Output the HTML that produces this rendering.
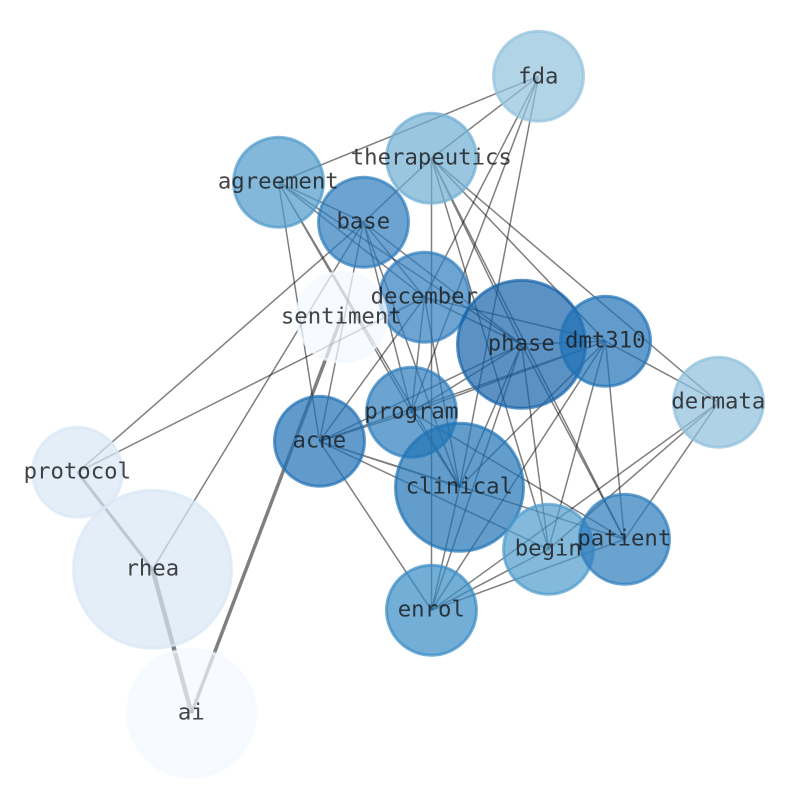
<!DOCTYPE html>
<html><head><meta charset="utf-8"><style>html,body{margin:0;padding:0;background:#fff}svg{display:block}text{font-family:"DejaVu Sans Mono","Liberation Mono",monospace;font-size:22.3px;text-anchor:middle;fill:#1a1a1a;fill-opacity:.82}</style></head><body>
<svg width="794" height="790" viewBox="0 0 794 790" xmlns="http://www.w3.org/2000/svg">
<rect width="794" height="790" fill="#fff"/>
<g transform="translate(.5,.3)">
<g stroke="#000" stroke-opacity=".5" stroke-width="1.5" fill="none">
<path d="M538 76L278 182M538 76L431 158M538 76L424 297M538 76L411 412M538 76L459 487"/>
<path d="M431 158L363 222M431 158L431 610M431 158L521 344M431 158L624 539M431 158L548 549M431 158L605 341M431 158L718 402"/>
<path d="M278 182L363 222M278 182L424 297M278 182L521 344M278 182L319 441M278 182L411 412M278 182L459 487"/>
<path d="M363 222L77 472M363 222L152 569M363 222L319 441M363 222L424 297M363 222L411 412M363 222L459 487M363 222L521 344"/>
<path d="M424 297L77 472M424 297L319 441M424 297L411 412M424 297L459 487M424 297L521 344M424 297L605 341"/>
<path d="M521 344L319 441M521 344L411 412M521 344L459 487M521 344L431 610M521 344L605 341M521 344L548 549M521 344L624 539"/>
<path d="M605 341L319 441M605 341L411 412M605 341L459 487M605 341L431 610M605 341L548 549M605 341L624 539M605 341L718 402"/>
<path d="M718 402L431 610M718 402L548 549M718 402L624 539"/>
<path d="M411 412L459 487M411 412L319 441M411 412L624 539"/>
<path d="M319 441L431 610M319 441L548 549M319 441L459 487M319 441L624 539"/>
<path d="M459 487L431 610"/>
<path d="M431 610L548 549M431 610L624 539"/>
<path stroke-width="3" d="M77 472L152 569"/>
<path stroke-width="3.5" d="M191 713L341 317"/>
<path stroke-width="4.5" d="M152 569L191 713"/>
</g>
<g stroke-width="3" fill-opacity=".7" stroke-opacity=".7">
<circle cx="538" cy="76" r="45" fill="rgb(145,194,221)" stroke="rgb(145,194,221)"/>
<circle cx="431" cy="158" r="45" fill="rgb(111,174,211)" stroke="rgb(111,174,211)"/>
<circle cx="278" cy="182" r="45" fill="rgb(78,154,202)" stroke="rgb(78,154,202)"/>
<circle cx="363" cy="222" r="45" fill="rgb(45,124,188)" stroke="rgb(45,124,188)"/>
<circle cx="424" cy="297" r="45" fill="rgb(48,126,189)" stroke="rgb(48,126,189)"/>
<circle cx="341" cy="317" r="45" fill="rgb(243,249,255)" stroke="rgb(243,249,255)"/>
<circle cx="521" cy="344" r="64" fill="rgb(21,98,169)" stroke="rgb(21,98,169)"/>
<circle cx="605" cy="341" r="45" fill="rgb(31,114,182)" stroke="rgb(31,114,182)"/>
<circle cx="718" cy="402" r="45" fill="rgb(142,191,219)" stroke="rgb(142,191,219)"/>
<circle cx="411" cy="412" r="45" fill="rgb(45,126,189)" stroke="rgb(45,126,189)"/>
<circle cx="319" cy="441" r="45" fill="rgb(31,112,181)" stroke="rgb(31,112,181)"/>
<circle cx="459" cy="487" r="64" fill="rgb(32,115,181)" stroke="rgb(32,115,181)"/>
<circle cx="548" cy="549" r="45" fill="rgb(79,155,204)" stroke="rgb(79,155,204)"/>
<circle cx="624" cy="539" r="45" fill="rgb(44,124,188)" stroke="rgb(44,124,188)"/>
<circle cx="431" cy="610" r="45" fill="rgb(56,139,196)" stroke="rgb(56,139,196)"/>
<circle cx="77" cy="472" r="45" fill="rgb(216,231,245)" stroke="rgb(216,231,245)"/>
<circle cx="152" cy="569" r="79" fill="rgb(216,231,245)" stroke="rgb(216,231,245)"/>
<circle cx="191" cy="713" r="64" fill="rgb(243,249,255)" stroke="rgb(243,249,255)"/>
</g>
<g transform="translate(-.2,0)">
<text x="538" y="83">fda</text>
<text x="431" y="164">therapeutics</text>
<text x="278" y="188">agreement</text>
<text x="363" y="228">base</text>
<text x="424" y="303">december</text>
<text x="341" y="323">sentiment</text>
<text x="521" y="350">phase</text>
<text x="605" y="347">dmt310</text>
<text x="718" y="408">dermata</text>
<text x="411" y="418">program</text>
<text x="319" y="447">acne</text>
<text x="459" y="493">clinical</text>
<text x="548" y="555">begin</text>
<text x="624" y="545">patient</text>
<text x="431" y="616">enrol</text>
<text x="77" y="478">protocol</text>
<text x="152" y="575">rhea</text>
<text x="191" y="719">ai</text>
</g>
</g>
</svg>
</body></html>
